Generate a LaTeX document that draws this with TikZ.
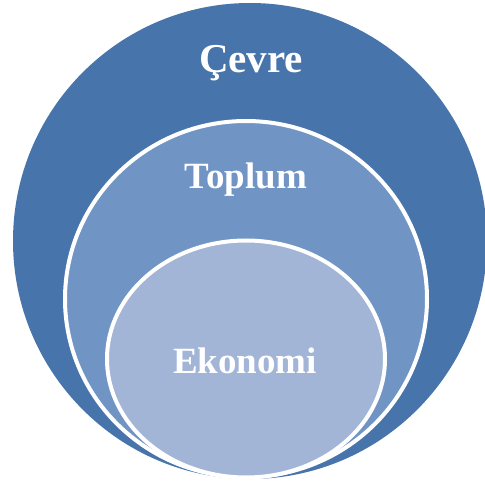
\documentclass[tikz,border=0pt]{standalone}
\usepackage{fontspec}
\setmainfont{Liberation Serif}
\usepackage{xcolor}
\usepackage{tikz}
\definecolor{cevrebl}{HTML}{4674AB}
\definecolor{toplumbl}{HTML}{7094C4}
\definecolor{ekobl}{HTML}{A2B5D6}
\tikzset{
  ring/.style={draw=white,line width=4pt},
  lbl/.style={text=white,font=\bfseries\fontsize{37}{40}\selectfont,anchor=base,inner sep=0pt}
}

\begin{document}
\begin{tikzpicture}[x=1pt,y=-1pt]
\useasboundingbox (0,0) rectangle (485,481);
\clip (0,0) rectangle (485,481);
\fill[cevrebl] (250,241) ellipse [x radius=237,y radius=238];
\filldraw[ring,fill=toplumbl] (246,299) ellipse [x radius=181,y radius=178];
\filldraw[ring,fill=ekobl] (246,359) ellipse [x radius=139,y radius=118.5];
\node[lbl,font=\bfseries\fontsize{41}{44}\selectfont] (cevre) at (251,73) {Çevre};
\node[lbl] (toplum) at (246,189) {Toplum};
\node[lbl] (ekonomi) at (245,373) {Ekonomi};
\end{tikzpicture}
\end{document}
